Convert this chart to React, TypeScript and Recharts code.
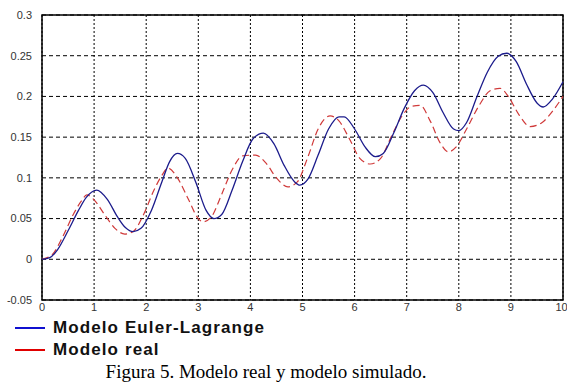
import { LineChart, Line, XAxis, YAxis, CartesianGrid, ReferenceArea } from 'recharts';

// time (s) and response of the simulated model
const eulerT = [0, 0.15, 0.3, 0.5, 0.7, 0.85, 1.05, 1.25, 1.45, 1.6, 1.75, 1.9, 2.1, 2.3, 2.45, 2.6, 2.75, 2.95, 3.15, 3.3, 3.45, 3.65, 3.85, 4.05, 4.25, 4.45, 4.65, 4.85, 4.95, 5.1, 5.3, 5.5, 5.7, 5.8, 6.0, 6.2, 6.4, 6.55, 6.75, 6.95, 7.15, 7.32, 7.5, 7.7, 7.9, 8.0, 8.15, 8.35, 8.55, 8.75, 8.92, 9.1, 9.3, 9.5, 9.62, 9.8, 10];
const eulerV = [0, 0.002, 0.012, 0.035, 0.06, 0.076, 0.085, 0.074, 0.052, 0.039, 0.034, 0.038, 0.06, 0.095, 0.12, 0.13, 0.124, 0.095, 0.06, 0.05, 0.055, 0.085, 0.12, 0.148, 0.155, 0.142, 0.115, 0.095, 0.091, 0.098, 0.128, 0.16, 0.175, 0.175, 0.16, 0.138, 0.126, 0.13, 0.155, 0.185, 0.207, 0.214, 0.205, 0.18, 0.16, 0.158, 0.168, 0.2, 0.23, 0.249, 0.253, 0.243, 0.215, 0.192, 0.187, 0.197, 0.218];

// time (s) and measured response
const realT = [0, 0.2, 0.4, 0.6, 0.75, 0.86, 1.0, 1.2, 1.4, 1.59, 1.75, 1.95, 2.15, 2.3, 2.42, 2.6, 2.8, 3.0, 3.09, 3.25, 3.45, 3.65, 3.85, 4.1, 4.3, 4.5, 4.72, 4.9, 5.1, 5.3, 5.53, 5.7, 5.9, 6.1, 6.3, 6.5, 6.7, 6.9, 7.1, 7.26, 7.45, 7.65, 7.8, 7.95, 8.15, 8.4, 8.6, 8.79, 8.95, 9.15, 9.37, 9.6, 9.8, 10];
const realV = [0, 0.006, 0.028, 0.055, 0.071, 0.079, 0.073, 0.055, 0.038, 0.031, 0.034, 0.055, 0.085, 0.103, 0.112, 0.1, 0.075, 0.05, 0.046, 0.052, 0.08, 0.11, 0.127, 0.128, 0.118, 0.1, 0.089, 0.095, 0.125, 0.16, 0.176, 0.17, 0.148, 0.124, 0.117, 0.124, 0.15, 0.175, 0.188, 0.189, 0.17, 0.142, 0.132, 0.138, 0.16, 0.19, 0.207, 0.21, 0.2, 0.178, 0.163, 0.168, 0.182, 0.2];

const xTicks = [0, 1, 2, 3, 4, 5, 6, 7, 8, 9, 10];
const yTicks = [-0.05, 0, 0.05, 0.1, 0.15, 0.2, 0.25, 0.3];

const eulerData = eulerT.map((t, i) => ({ t, v: eulerV[i] }));
const realData = realT.map((t, i) => ({ t, v: realV[i] }));

const tickStyle = { fontSize: 11, fill: '#333', fontFamily: 'Liberation Sans, Arial, sans-serif' };

export default function App() {
  return (
    <div style={{ position: 'absolute', top: 0, left: 0, width: 567, height: 387, background: '#fff' }}>
      <LineChart width={567} height={320} margin={{ top: 15, right: 4, left: 0, bottom: 0 }}>
        <CartesianGrid horizontal={true} vertical={false} stroke="#000" strokeDasharray="4 3" />
        <CartesianGrid horizontal={false} vertical={true} stroke="#000" strokeDasharray="2 2" />
        <XAxis
          type="number"
          dataKey="t"
          domain={[0, 10]}
          ticks={xTicks}
          tick={{ ...tickStyle, dy: -3 }}
          axisLine={false}
          tickLine={false}
          tickMargin={0}
          height={20}
          allowDuplicatedCategory={false}
        />
        <YAxis
          type="number"
          domain={[-0.05, 0.3]}
          ticks={yTicks}
          tick={tickStyle}
          axisLine={false}
          tickLine={false}
          tickMargin={4}
          width={42}
        />
        <ReferenceArea x1={0} x2={10} y1={-0.05} y2={0.3} fill="none" stroke="#000" strokeWidth={1.5} />
        <Line data={realData} dataKey="v" type="monotone" stroke="#d03a3a" strokeWidth={1.2} strokeDasharray="7 4" dot={false} isAnimationActive={false} />
        <Line data={eulerData} dataKey="v" type="monotone" stroke="#1c1c8c" strokeWidth={1.3} dot={false} isAnimationActive={false} />
      </LineChart>
      <div style={{ position: 'absolute', left: 15, top: 317, fontFamily: 'Liberation Sans, Arial, sans-serif', fontWeight: 'bold', fontSize: 17, letterSpacing: 1.1, color: '#111' }}>
        <div style={{ display: 'flex', alignItems: 'center', height: 22 }}>
          <span style={{ display: 'inline-block', width: 30, height: 2, background: '#1010d0', marginRight: 8 }} />
          Modelo Euler-Lagrange
        </div>
        <div style={{ display: 'flex', alignItems: 'center', height: 22 }}>
          <span style={{ display: 'inline-block', width: 30, height: 2, background: '#e00000', marginRight: 8 }} />
          Modelo real
        </div>
      </div>
      <div style={{ position: 'absolute', left: 0, width: 532, top: 361, textAlign: 'center', fontFamily: 'Liberation Serif, Times New Roman, serif', fontSize: 19, color: '#000' }}>
        Figura 5. Modelo real y modelo simulado.
      </div>
    </div>
  );
}
